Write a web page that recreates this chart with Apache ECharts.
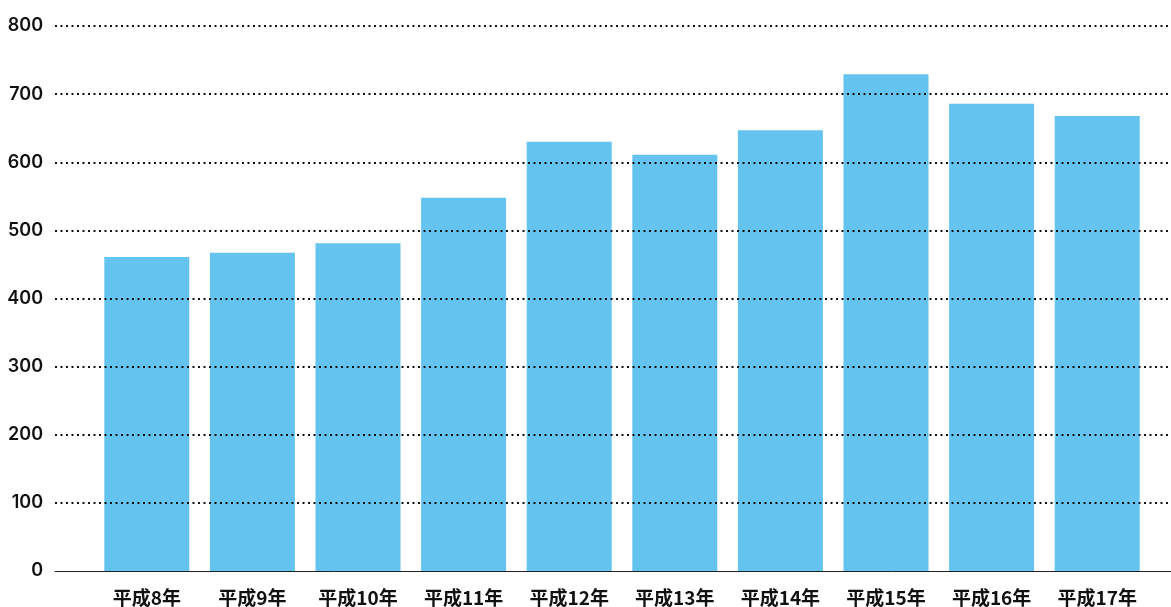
<!DOCTYPE html>
<html><head><meta charset="utf-8">
<script src="https://cdn.jsdelivr.net/npm/echarts@6/dist/echarts.min.js"></script>
<style>html,body{margin:0;padding:0;background:#fff}#c{width:1171px;height:607px}</style>
</head><body><div id="c"></div>
<script>
const categories = ['平成8年','平成9年','平成10年','平成11年','平成12年','平成13年','平成14年','平成15年','平成16年','平成17年'];
const values = [461, 467, 481, 548, 630, 611, 647, 729, 686, 668];
const yTicks = { min: 0, max: 800, interval: 100 };

const chart = echarts.init(document.getElementById('c'), null, {renderer: 'canvas'});
chart.setOption({
  animation: false,
  backgroundColor: '#fff',
  grid: [
    { left: 94, right: 21, top: 26, bottom: 36 },
    { left: 55, right: 0, top: 26, bottom: 36 }
  ],
  xAxis: [
    { type: 'category', gridIndex: 0, data: categories,
      axisLine: { show: false }, axisTick: { show: false },
      axisLabel: { interval: 0, hideOverlap: false, color: '#111', fontSize: 19, fontWeight: 'bold', margin: 17,
        fontFamily: '"Noto Sans CJK JP", sans-serif' } },
    { type: 'value', gridIndex: 1, min: 0, max: 1, z: 11,
      axisLine: { show: true, lineStyle: { color: '#222', width: 1 } },
      axisTick: { show: false }, axisLabel: { show: false }, splitLine: { show: false } }
  ],
  yAxis: [
    { type: 'value', gridIndex: 0, min: yTicks.min, max: yTicks.max, interval: yTicks.interval,
      show: false, splitLine: { show: false } },
    { type: 'value', gridIndex: 1, min: yTicks.min, max: yTicks.max, interval: yTicks.interval, z: 10,
      axisLine: { show: false }, axisTick: { show: false },
      axisLabel: { color: '#111', fontSize: 18, margin: 12, fontWeight: 600,
        fontFamily: 'Inter, "Liberation Sans", Arial, sans-serif' },
      splitLine: { show: true, showMinLine: false, lineStyle: { color: '#111', width: 2, type: [2, 3.5] } } }
  ],
  series: [{
    type: 'bar', xAxisIndex: 0, yAxisIndex: 0, data: values,
    barWidth: 85, itemStyle: { color: '#65C4EF' }
  }]
});
</script></body></html>
